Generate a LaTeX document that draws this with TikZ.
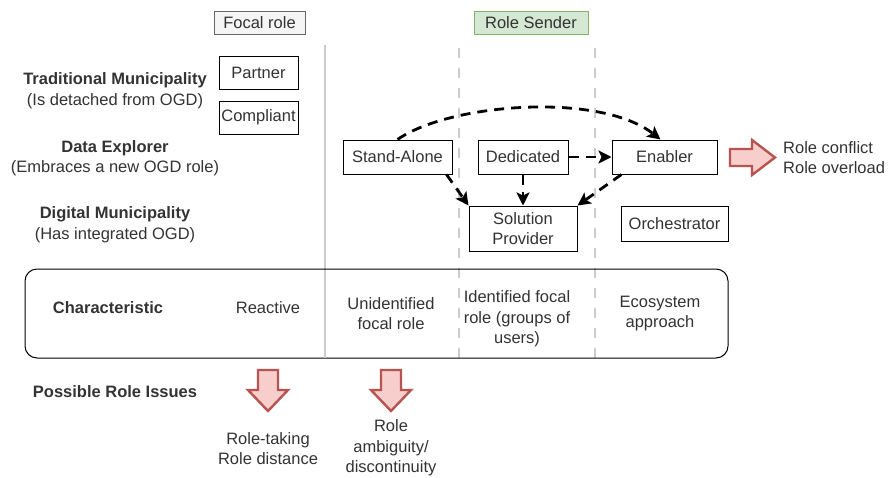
\documentclass[tikz,border=0pt]{standalone}
\usepackage{fontspec}
\setmainfont{Liberation Sans}
\usetikzlibrary{arrows.meta}
\definecolor{txt}{HTML}{333333}
\definecolor{redfill}{HTML}{F8CECC}
\definecolor{redline}{HTML}{B85450}
\definecolor{greenfill}{HTML}{D5E8D4}
\definecolor{greenline}{HTML}{82B366}
\definecolor{grayfill}{HTML}{F5F5F5}
\definecolor{grayline}{HTML}{666666}
\definecolor{sepline}{HTML}{CCCCCC}
\begin{document}
\begin{tikzpicture}[x=1pt,y=-1pt,
  every node/.style={font=\fontsize{16.5}{20.5}\selectfont, text=txt, inner sep=0pt},
  rolebox/.style={draw=black, line width=1pt, fill=white, align=center},
  hdr/.style={align=center},
  flow/.style={draw=black, line width=2.8pt, dash pattern=on 10pt off 7pt, -{Stealth[length=13pt,width=13pt,inset=3pt]}},
  sep/.style={draw=sepline, line width=2.8pt},
  sepdash/.style={draw=sepline, line width=2.8pt, dash pattern=on 10pt off 10pt},
  bigarrow/.style={draw=redline, fill=redfill, line width=2.4pt, line join=miter}
]
\useasboundingbox (0,0) rectangle (888,477);

% header boxes
\node[draw=grayline, fill=grayfill, line width=1pt, minimum width=91pt, minimum height=23pt] (focal) at (259.5,22.5) {Focal role};
\node[draw=greenline, fill=greenfill, line width=1pt, minimum width=114pt, minimum height=23pt] (sender) at (531,22.5) {Role Sender};

% separators
\coordinate (s1t) at (325,45); \coordinate (s1b) at (325,358);
\coordinate (s2t) at (459,48); \coordinate (s2b) at (459,358);
\coordinate (s3t) at (595,48); \coordinate (s3b) at (595,358);
\draw[sep] (s1t) -- (s1b);
\draw[sepdash] (s2t) -- (s2b);
\draw[sepdash] (s3t) -- (s3b);

% characteristic box
\draw[black, line width=1pt, rounded corners=12pt] (25,269) rectangle (728,358);
\coordinate (s1r) at (325,270);
\draw[sep] (s1r) -- (s1b);

% left labels
\node[hdr] (trad) at (115,90.5) {\textbf{Traditional Municipality}\\(Is detached from OGD)};
\node[hdr] (dexp) at (115,158) {\textbf{Data Explorer}\\(Embraces a new OGD role)};
\node[hdr] (digm) at (115,224.5) {\textbf{Digital Municipality}\\(Has integrated OGD)};

% focal role boxes
\node[rolebox, minimum width=79pt, minimum height=33pt] (partner) at (258.5,72.5) {Partner};
\node[rolebox, minimum width=79pt, minimum height=33pt] (compliant) at (258.5,117.5) {Compliant};

% role sender boxes
\node[rolebox, minimum width=109pt, minimum height=34pt] (stand) at (397.5,157) {Stand-Alone};
\node[rolebox, minimum width=90pt, minimum height=34pt] (dedic) at (523,157) {Dedicated};
\node[rolebox, minimum width=105pt, minimum height=34pt] (enab) at (664.5,157) {Enabler};
\node[rolebox, minimum width=108pt, minimum height=45pt] (solp) at (523,228.5) {Solution\\Provider};
\node[rolebox, minimum width=107pt, minimum height=35pt] (orch) at (674.5,223.5) {Orchestrator};

% flows
\draw[flow] (stand.north) .. controls (450,103) and (600,92) .. ([xshift=-4pt]enab.north);
\draw[flow] ([xshift=-6pt]stand.south east) -- (solp.north west);
\draw[flow] (dedic.south) -- (solp.north);
\draw[flow] (dedic.east) -- (enab.west);
\draw[flow] ([xshift=10pt]enab.south west) -- (solp.north east);

% right big arrow
\draw[bigarrow] (730,149) -- (752,149) -- (752,140) -- (775,157.5) -- (752,175) -- (752,166) -- (730,166) -- cycle;
\node[anchor=west, align=left] (conflict) at (783,157.5) {Role conflict\\Role overload};

% characteristic row
\node[font=\fontsize{16.5}{20.5}\selectfont\bfseries] (charlbl) at (108,308) {Characteristic};
\node (reactive) at (268,308) {Reactive};
\node[hdr] (unid) at (391,313.5) {Unidentified\\focal role};
\node[hdr] (ident) at (517,319) {Identified focal\\role (groups of\\users)};
\node[hdr] (eco) at (660,313.5) {Ecosystem\\approach};

% issues
\node[font=\fontsize{16.5}{20.5}\selectfont\bfseries] (issues) at (115,392) {Possible Role Issues};
\draw[bigarrow] (258,370) -- (278,370) -- (278,390) -- (288,390) -- (268,411) -- (248,390) -- (258,390) -- cycle;
\draw[bigarrow] (381,370) -- (401,370) -- (401,390) -- (411,390) -- (391,411) -- (371,390) -- (381,390) -- cycle;
\node[hdr] (issue1) at (268,448.5) {Role-taking\\Role distance};
\node[hdr] (issue2) at (391,448) {Role\\ambiguity/\\discontinuity};
\end{tikzpicture}
\end{document}
